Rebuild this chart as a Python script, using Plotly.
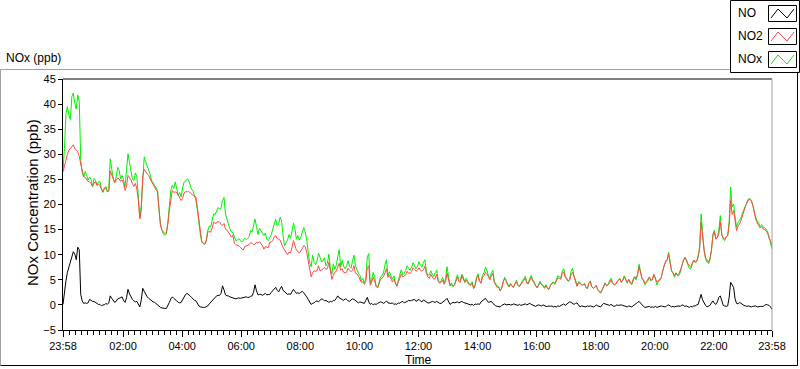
import pandas as pd
import plotly.graph_objects as go

# ---------------- data: 6-minute readings plus the 3-minute readings between them ----------------
start_time = "2020-01-01 23:58"
step_minutes = 3

nox = [
    26.8, 38.1, 37.8, 41.5, 40.1, 41.8, 28.8, 25.5, 25.8, 25.5,
    23.5, 24.8, 24.5, 23.1, 23.1, 22.5, 29.1, 25.1, 25.5, 26.8,
    25.8, 23.5, 30.1, 26.5, 24.8, 25.5, 17.5, 26.1, 28.5, 27.1,
    24.8, 23.6, 22.8, 16.1, 14.1, 14.1, 19.5, 23.8, 24.5, 21.8,
    21.5, 24.5, 25.1, 23.8, 22.8, 20.8, 16.1, 12.5, 12.1, 14.8,
    15.5, 18.1, 18.8, 19.1, 20.8, 18.1, 16.1, 14.5, 13.5, 12.9,
    12.8, 12.8, 13.0, 13.6, 14.5, 17.1, 14.0, 14.7, 13.8, 13.1,
    13.5, 15.1, 17.1, 16.1, 16.7, 11.8, 12.9, 13.3, 16.3, 13.1,
    12.9, 14.7, 14.5, 10.5, 7.6, 8.5, 8.8, 9.5, 8.7, 7.8,
    10.1, 6.1, 7.1, 9.5, 7.6, 7.7, 7.8, 7.7, 8.7, 7.8,
    6.3, 4.8, 4.3, 9.5, 4.3, 6.5, 3.7, 4.5, 5.8, 8.0,
    5.8, 5.8, 5.8, 3.8, 6.1, 6.0, 6.9, 7.3, 7.5, 7.8,
    7.7, 7.9, 8.5, 6.7, 6.0, 6.1, 6.4, 5.0, 4.8, 4.4,
    7.6, 3.8, 3.7, 5.1, 5.1, 6.1, 4.5, 4.7, 4.0, 3.3,
    5.5, 4.8, 5.9, 7.5, 5.8, 6.4, 4.7, 3.7, 2.8, 4.8,
    4.9, 3.6, 3.7, 4.4, 4.0, 4.3, 5.1, 4.5, 5.3, 5.0,
    3.8, 4.1, 4.1, 3.5, 3.3, 3.9, 4.5, 5.1, 5.6, 6.7,
    5.8, 4.8, 6.7, 5.7, 3.8, 4.5, 3.9, 3.5, 4.3, 3.6,
    3.5, 3.0, 2.3, 3.8, 3.8, 4.8, 4.5, 4.0, 4.9, 4.5,
    5.8, 4.3, 4.3, 4.8, 5.0, 8.1, 5.2, 4.0, 4.8, 4.8,
    6.0, 4.0, 4.8, 6.7, 8.5, 10.5, 6.8, 5.5, 5.8, 6.5,
    8.8, 8.8, 7.3, 8.0, 8.4, 9.5, 18.1, 10.8, 8.5, 8.9,
    14.1, 13.1, 14.8, 14.0, 12.8, 13.8, 23.5, 20.1, 15.5, 16.8,
    18.3, 19.9, 21.1, 20.8, 18.5, 16.7, 15.6, 15.5, 15.1, 13.6, 11.1,
]
nox_mid = [
    31.2, 39.5, 36.9, 42.2, 39.0, 40.5, 26.4, 26.6, 24.9, 25.0,
    25.2, 23.9, 24.6, 22.4, 23.6, 23.0, 27.2, 24.3, 27.4, 25.1,
    24.9, 26.8, 28.4, 25.0, 26.3, 22.0, 19.8, 29.5, 27.6, 26.0,
    24.3, 23.2, 19.0, 14.8, 13.9, 16.5, 22.9, 23.2, 23.4, 22.4,
    23.3, 24.6, 24.9, 23.0, 22.0, 18.9, 14.0, 12.2, 12.9, 15.7,
    16.9, 18.0, 19.4, 19.3, 21.4, 17.3, 15.2, 14.4, 12.8, 13.2,
    12.6, 13.3, 13.2, 14.8, 15.8, 15.6, 15.3, 14.1, 14.3, 12.8,
    14.0, 16.3, 15.7, 17.5, 13.8, 12.4, 14.0, 14.6, 15.2, 13.8,
    13.5, 15.4, 13.0, 8.4, 9.9, 8.0, 10.3, 8.6, 9.4, 8.3,
    7.4, 8.2, 7.9, 11.0, 8.9, 7.2, 8.8, 7.3, 9.9, 7.0,
    5.9, 5.3, 5.2, 10.2, 5.0, 5.6, 3.4, 5.6, 6.4, 9.0,
    6.6, 5.1, 4.4, 4.9, 7.0, 6.3, 7.8, 6.9, 8.4, 7.2,
    8.6, 7.5, 9.0, 5.9, 6.8, 5.6, 6.9, 4.5, 5.5, 5.2,
    5.1, 4.4, 4.0, 6.0, 4.8, 5.6, 5.3, 4.2, 4.6, 4.0,
    6.2, 4.5, 6.4, 6.9, 5.3, 6.9, 4.1, 3.6, 3.4, 5.5,
    4.1, 4.3, 3.5, 4.9, 3.7, 4.8, 5.7, 4.3, 5.9, 4.6,
    3.4, 4.7, 3.9, 4.0, 3.1, 4.4, 4.3, 5.8, 5.4, 7.2,
    5.4, 5.1, 7.3, 5.0, 4.6, 4.0, 4.3, 3.2, 4.8, 3.3,
    3.9, 2.6, 2.9, 4.4, 4.0, 5.3, 4.0, 4.6, 5.3, 4.9,
    5.0, 5.1, 4.0, 5.6, 6.2, 6.6, 4.8, 4.5, 5.5, 5.0,
    5.3, 4.6, 5.4, 7.9, 9.0, 8.5, 6.3, 6.3, 5.9, 7.9,
    9.5, 8.0, 7.2, 8.9, 8.6, 11.5, 13.5, 9.2, 8.2, 11.0,
    14.9, 13.5, 17.8, 13.1, 13.6, 16.5, 19.5, 17.5, 16.4, 17.3,
    19.0, 20.7, 21.2, 19.9, 17.4, 16.3, 16.0, 15.4, 14.6, 12.6,
]

no2 = [
    26.5, 28.8, 30.8, 31.5, 31.1, 30.5, 28.1, 25.5, 24.9, 24.5,
    23.6, 24.5, 24.0, 23.1, 23.3, 22.7, 26.7, 25.1, 24.8, 25.1,
    24.9, 22.8, 25.8, 24.9, 23.6, 23.1, 17.1, 25.8, 26.5, 25.8,
    24.5, 23.3, 22.5, 15.8, 14.5, 14.5, 18.8, 22.8, 22.5, 21.8,
    20.8, 22.3, 22.5, 22.3, 21.8, 21.5, 16.1, 12.5, 12.1, 14.5,
    14.5, 16.5, 16.5, 16.5, 15.8, 15.1, 14.5, 13.5, 12.3, 11.9,
    11.5, 10.9, 11.7, 12.0, 12.3, 12.1, 12.3, 12.3, 11.1, 11.5,
    12.5, 12.8, 13.8, 13.1, 12.1, 10.9, 10.0, 10.3, 12.8, 10.9,
    10.3, 11.3, 11.6, 8.8, 5.6, 6.8, 6.8, 6.8, 7.2, 7.1,
    8.5, 5.1, 6.5, 7.5, 6.9, 6.5, 6.5, 6.9, 6.9, 6.3,
    5.7, 4.5, 4.1, 7.5, 3.9, 5.5, 3.7, 4.3, 5.3, 6.4,
    5.5, 5.2, 5.1, 3.7, 5.5, 5.6, 6.0, 6.3, 6.7, 7.1,
    6.9, 6.9, 7.0, 6.3, 5.3, 5.6, 5.3, 4.7, 4.5, 4.1,
    6.3, 3.8, 3.7, 4.8, 4.7, 5.8, 4.5, 4.5, 3.9, 3.3,
    5.3, 4.7, 5.5, 6.5, 5.6, 5.7, 4.4, 3.5, 2.8, 4.7,
    4.8, 3.6, 3.7, 4.2, 3.9, 4.1, 4.9, 4.3, 4.9, 4.8,
    3.8, 3.9, 4.0, 3.3, 3.3, 3.9, 4.5, 4.9, 5.3, 6.3,
    5.5, 4.7, 6.0, 5.5, 3.7, 4.3, 3.9, 3.5, 4.3, 3.6,
    3.5, 3.1, 2.5, 3.8, 3.8, 4.3, 4.3, 4.1, 4.9, 4.5,
    5.6, 4.5, 4.7, 5.1, 5.3, 7.6, 5.3, 4.3, 5.1, 4.9,
    6.1, 4.6, 5.1, 6.7, 8.8, 10.1, 6.8, 5.8, 6.0, 6.9,
    8.9, 9.1, 7.9, 8.3, 8.7, 9.8, 16.5, 11.1, 8.9, 9.3,
    13.8, 13.1, 14.1, 14.0, 13.1, 13.8, 20.8, 18.8, 14.8, 16.1,
    17.9, 19.6, 20.9, 20.7, 18.1, 16.3, 15.3, 15.1, 14.8, 13.3, 11.8,
]
no2_mid = [
    27.8, 30.0, 31.2, 31.9, 30.9, 29.6, 26.4, 25.4, 24.6, 24.2,
    24.3, 23.8, 23.8, 22.5, 23.2, 22.6, 25.9, 24.4, 25.3, 24.6,
    24.2, 23.6, 25.4, 24.1, 24.2, 20.9, 18.9, 27.0, 26.1, 25.0,
    24.0, 22.9, 18.7, 14.9, 14.2, 16.1, 21.2, 22.4, 22.4, 21.5,
    21.3, 22.6, 22.6, 22.0, 21.6, 19.3, 14.0, 12.2, 12.7, 14.6,
    15.3, 16.2, 16.6, 16.0, 16.2, 14.9, 14.1, 13.9, 12.0, 11.8,
    11.2, 11.6, 11.8, 12.4, 12.0, 12.5, 12.6, 11.8, 11.6, 11.4,
    12.5, 13.6, 13.2, 12.9, 11.3, 10.5, 10.5, 11.4, 11.9, 10.7,
    10.7, 11.8, 10.5, 7.0, 6.4, 6.7, 7.8, 6.9, 7.5, 7.2,
    6.9, 5.9, 6.7, 8.3, 7.2, 6.4, 7.3, 6.6, 7.8, 6.2,
    5.2, 4.6, 4.7, 7.8, 4.6, 4.8, 3.4, 5.1, 5.7, 7.2,
    5.9, 4.6, 4.2, 4.5, 6.1, 5.7, 6.7, 6.3, 7.4, 6.7,
    7.4, 6.7, 7.7, 5.6, 6.1, 5.1, 6.1, 4.3, 4.9, 4.7,
    4.8, 4.1, 3.9, 5.5, 4.5, 5.2, 4.9, 4.0, 4.3, 3.8,
    5.8, 4.3, 5.8, 6.2, 5.0, 6.3, 3.9, 3.5, 3.3, 5.2,
    4.0, 4.1, 3.5, 4.6, 3.6, 4.6, 5.3, 4.2, 5.5, 4.4,
    3.4, 4.4, 3.8, 3.9, 3.1, 4.2, 4.1, 5.4, 5.1, 6.6,
    5.1, 4.9, 6.5, 4.8, 4.4, 4.0, 4.2, 3.3, 4.6, 3.3,
    3.8, 2.8, 3.0, 4.3, 4.0, 5.0, 4.1, 4.6, 5.2, 4.9,
    5.0, 5.1, 4.2, 5.6, 6.0, 6.4, 5.0, 4.6, 5.6, 5.1,
    5.5, 4.8, 5.5, 7.8, 8.9, 8.4, 6.4, 6.4, 6.2, 7.8,
    9.4, 8.2, 7.5, 8.9, 8.7, 11.0, 12.9, 9.4, 8.5, 10.8,
    14.5, 13.4, 16.5, 13.3, 13.6, 15.9, 18.0, 16.9, 15.7, 16.8,
    18.6, 20.3, 21.0, 19.8, 17.1, 15.9, 15.6, 15.1, 14.3, 12.8,
]

no = [
    0.1, 4.8, 7.5, 9.5, 10.1, 11.5, 2.1, 0.3, 0.3, 1.1,
    0.7, 0.5, 0.1, -0.2, 0.0, 0.1, 1.8, 0.8, 0.7, 1.3,
    1.6, 0.5, 3.1, 1.6, 0.8, 0.7, -0.4, 3.3, 2.1, 1.3,
    0.8, 0.5, 0.0, -0.5, -0.7, -0.7, 0.5, 1.6, 1.1, 0.5,
    0.5, 1.8, 2.3, 1.8, 1.1, 0.8, -0.2, -0.5, -0.5, -0.2,
    0.5, 1.3, 1.8, 1.9, 3.8, 2.0, 1.8, 1.5, 1.3, 1.3,
    1.3, 1.5, 1.6, 1.5, 1.8, 4.0, 2.0, 2.1, 2.1, 2.0,
    2.1, 2.9, 3.5, 2.6, 3.7, 2.6, 2.1, 2.1, 3.1, 2.3,
    2.3, 2.7, 2.1, 1.1, 0.1, 0.4, 0.8, 0.9, 1.1, 0.9,
    0.5, 0.6, 0.9, 1.8, 1.2, 0.9, 1.1, 0.7, 1.2, 0.9,
    0.4, 0.5, 0.3, 1.5, 0.1, 0.0, 0.1, 0.4, 0.5, 0.5,
    0.4, 0.3, 0.1, 0.1, 0.3, 0.7, 0.5, 0.9, 0.9, 1.1,
    0.9, 0.8, 1.0, 0.6, 0.4, 0.7, 0.5, 0.5, 0.3, 0.7,
    1.3, 0.1, 0.5, 0.5, 0.4, 0.7, 0.4, 0.1, 0.0, -0.1,
    0.1, 0.1, 0.9, 1.3, 0.5, 0.7, 0.0, -0.3, -0.4, 0.1,
    0.0, 0.1, 0.0, 0.1, -0.1, -0.1, 0.1, 0.0, 0.3, 0.0,
    -0.3, 0.0, -0.2, -0.2, -0.3, -0.3, -0.4, -0.4, -0.3, 0.1,
    -0.1, 0.5, 0.5, 0.1, 0.4, -0.4, -0.3, -0.4, -0.3, -0.3,
    -0.3, -0.2, -0.4, 0.3, 0.1, -0.1, -0.2, -0.2, -0.1, 0.0,
    -0.2, -0.4, -0.3, -0.2, 0.3, 0.7, 0.0, -0.5, -0.4, -0.5,
    -0.5, -0.5, -0.4, -0.3, -0.4, 0.0, -0.4, -0.4, -0.2, -0.3,
    -0.1, -0.2, -0.5, -0.4, -0.2, 0.1, 2.1, 0.3, -0.4, -0.1,
    0.8, 0.1, 1.5, 0.7, -0.2, -0.2, 4.5, 3.5, 0.3, 0.5,
    0.0, -0.2, -0.2, -0.4, -0.2, -0.4, -0.3, -0.3, 0.1, -0.1, -0.9,
]
no_mid = [
    3.2, 6.5, 8.6, 10.6, 9.0, 11.0, 0.8, 0.4, 0.4, 0.9,
    0.7, 0.2, 0.1, 0.0, 0.3, 0.4, 1.3, 0.5, 1.2, 1.4,
    0.9, 1.4, 2.2, 1.1, 0.6, 0.2, 1.0, 2.7, 1.6, 1.0,
    0.6, 0.2, -0.3, -0.6, -0.7, 0.1, 1.2, 1.3, 0.8, 0.4,
    1.1, 2.1, 2.1, 1.5, 0.9, 0.3, -0.4, -0.5, -0.4, 0.2,
    0.9, 1.5, 1.9, 2.3, 3.0, 1.8, 1.6, 1.4, 1.2, 1.4,
    1.4, 1.6, 1.5, 1.7, 2.5, 2.8, 2.1, 1.9, 2.3, 2.0,
    2.5, 3.1, 2.9, 3.2, 2.9, 2.3, 2.2, 2.6, 2.7, 2.4,
    2.5, 2.4, 1.6, 0.5, 0.3, 0.7, 0.6, 1.2, 0.8, 0.7,
    0.7, 0.9, 1.3, 1.4, 1.0, 1.2, 0.8, 1.0, 1.1, 0.6,
    0.6, 0.3, 0.9, 0.6, 0.3, 0.2, 0.3, 0.6, 0.3, 0.8,
    0.3, 0.4, 0.2, 0.4, 0.6, 0.4, 0.7, 0.8, 1.0, 0.7,
    1.1, 0.6, 0.8, 0.4, 0.6, 0.6, 0.7, 0.3, 0.5, 1.0,
    0.6, 0.3, 0.4, 0.6, 0.5, 0.5, 0.3, 0.1, 0.1, 0.2,
    0.2, 0.6, 1.0, 0.9, 0.6, 0.3, -0.2, -0.3, -0.1, 0.2,
    0.1, 0.0, 0.2, 0.0, 0.1, 0.0, 0.2, 0.2, 0.1, -0.1,
    -0.1, -0.1, 0.0, -0.3, -0.2, -0.2, -0.3, -0.2, -0.1, 0.2,
    0.2, 0.6, 0.3, 0.3, 0.0, -0.2, -0.3, -0.2, -0.2, -0.4,
    0.0, -0.3, 0.0, 0.2, -0.1, 0.1, -0.3, 0.0, 0.0, -0.1,
    -0.3, -0.2, -0.4, 0.1, 0.5, 0.3, -0.3, -0.4, -0.3, -0.4,
    -0.3, -0.4, -0.2, -0.4, -0.1, -0.2, -0.3, -0.3, -0.2, 0.0,
    -0.3, -0.4, -0.3, -0.2, 0.0, 1.1, 1.0, -0.1, -0.2, 0.4,
    0.3, 0.6, 1.8, -0.1, -0.3, 1.5, 3.9, 1.2, 0.2, 0.3,
    -0.1, -0.3, -0.3, -0.3, -0.2, -0.3, -0.3, -0.1, 0.0, -0.4,
]

series_names = ["NO", "NO2", "NOx"]
series_colors = ["#000000", "#ff4848", "#00f000"]
x_tick_labels = ["23:58", "02:00", "04:00", "06:00", "08:00", "10:00", "12:00",
                 "14:00", "16:00", "18:00", "20:00", "22:00", "23:58"]
y_range = [-5, 45]


def interleave(main, mid):
    out = []
    for a, b in zip(main[:-1], mid):
        out += [a, b]
    out.append(main[-1])
    return out


nox_all = interleave(nox, nox_mid)
no2_all = interleave(no2, no2_mid)
no_all = interleave(no, no_mid)

# ---------------- figure ----------------
times = pd.date_range(start_time, periods=len(nox_all), freq=f"{step_minutes}min")
t0, t1 = times[0], times[-1]
tickvals = [t0] + [pd.Timestamp("2020-01-02") + pd.Timedelta(hours=h) for h in range(2, 23, 2)] + [t1]

FONT = "Liberation Sans, Arial, sans-serif"
W, H = 800, 369
L, R, T, B = 63, 772, 79, 330
PW, PH = R - L, B - T


def px(x):
    return (x - L) / PW


def py(y):
    return (B - y) / PH


fig = go.Figure()
fig.add_trace(go.Scatter(x=times, y=nox_all, mode="lines", name=series_names[2],
                         line=dict(color=series_colors[2], width=1)))
fig.add_trace(go.Scatter(x=times, y=no2_all, mode="lines", name=series_names[1],
                         line=dict(color=series_colors[1], width=1)))
fig.add_trace(go.Scatter(x=times, y=no_all, mode="lines", name=series_names[0],
                         line=dict(color=series_colors[0], width=1)))

shapes = []
# outer sunken frame
shapes.append(dict(type="line", xref="paper", yref="paper", x0=px(0.5), x1=px(797.5), y0=py(69.5), y1=py(69.5),
                   line=dict(color="#a0a0a0", width=1)))
shapes.append(dict(type="line", xref="paper", yref="paper", x0=px(0.5), x1=px(0.5), y0=py(69.5), y1=py(365.5),
                   line=dict(color="#a0a0a0", width=1)))
shapes.append(dict(type="line", xref="paper", yref="paper", x0=px(0.5), x1=px(797.5), y0=py(365.5), y1=py(365.5),
                   line=dict(color="#000000", width=1)))
shapes.append(dict(type="line", xref="paper", yref="paper", x0=px(797.5), x1=px(797.5), y0=py(69.5), y1=py(365.5),
                   line=dict(color="#000000", width=1)))
# plot frame: top black, right gray
shapes.append(dict(type="line", xref="paper", yref="paper", x0=0, x1=1, y0=1, y1=1,
                   line=dict(color="#000000", width=1)))
shapes.append(dict(type="line", xref="paper", yref="paper", x0=1, x1=1, y0=0, y1=1,
                   line=dict(color="#a0a0a0", width=1)))
# legend box
shapes.append(dict(type="rect", xref="paper", yref="paper", x0=px(730.5), x1=px(799.5), y0=py(0.5), y1=py(72.5),
                   fillcolor="white", line=dict(color="#000000", width=1)))

annotations = []
legend_rows = [(13, 0), (36, 1), (59, 2)]
for cy, k in legend_rows:
    annotations.append(dict(text=series_names[k], xref="paper", yref="paper", x=px(736), y=py(cy),
                            xanchor="left", yanchor="middle", showarrow=False,
                            font=dict(family=FONT, size=12, color="#000")))
    y0, y1 = cy - 7.5, cy + 8.5
    shapes.append(dict(type="rect", xref="paper", yref="paper", x0=px(768.5), x1=px(796.5),
                       y0=py(y0), y1=py(y1), fillcolor="white", line=dict(color="#000000", width=1)))
    pts = [(771, cy + 5), (778, cy - 4), (787, cy + 5), (794, cy - 4)]
    path = "M " + " L ".join(f"{px(a)},{py(b)}" for a, b in pts)
    shapes.append(dict(type="path", xref="paper", yref="paper", path=path,
                       line=dict(color=series_colors[k], width=1)))

annotations.append(dict(text="NOx (ppb)", xref="paper", yref="paper", x=px(4), y=py(58),
                        xanchor="left", yanchor="middle", showarrow=False,
                        font=dict(family=FONT, size=12, color="#000")))
annotations.append(dict(text="NOx Concentration (ppb)", xref="paper", yref="paper", x=px(32), y=py(203),
                        xanchor="center", yanchor="middle", showarrow=False, textangle=-90,
                        font=dict(family=FONT, size=15, color="#000")))
annotations.append(dict(text="Time", xref="paper", yref="paper", x=px(418), y=py(360),
                        xanchor="center", yanchor="middle", showarrow=False,
                        font=dict(family=FONT, size=12, color="#000")))

fig.update_layout(
    width=W, height=H,
    margin=dict(l=L, r=W - R, t=T, b=H - B, pad=0),
    paper_bgcolor="white", plot_bgcolor="white",
    showlegend=False,
    shapes=shapes, annotations=annotations,
    font=dict(family=FONT, size=11, color="#000"),
    xaxis=dict(
        range=[t0, t1], tickvals=tickvals, ticktext=x_tick_labels,
        showgrid=False, zeroline=False, showline=True, linecolor="#000", linewidth=1,
        ticks="outside", ticklen=6, tickcolor="#000", tickwidth=1,
        tickfont=dict(family=FONT, size=11, color="#000"),
        minor=dict(ticks="outside", ticklen=4, tickcolor="#000", tickwidth=1,
                   dtick=12 * 60 * 1000, tick0="2020-01-02 00:00", showgrid=False),
    ),
    yaxis=dict(
        range=y_range, dtick=5, tick0=0,
        showgrid=False, zeroline=False, showline=True, linecolor="#000", linewidth=1,
        ticks="outside", ticklen=4, tickcolor="#000", tickwidth=1,
        tickfont=dict(family=FONT, size=11, color="#000"),
    ),
)

fig.write_html("out.html", config={"displayModeBar": False},
               post_script="document.body.style.margin='0';document.body.style.overflow='hidden';")
